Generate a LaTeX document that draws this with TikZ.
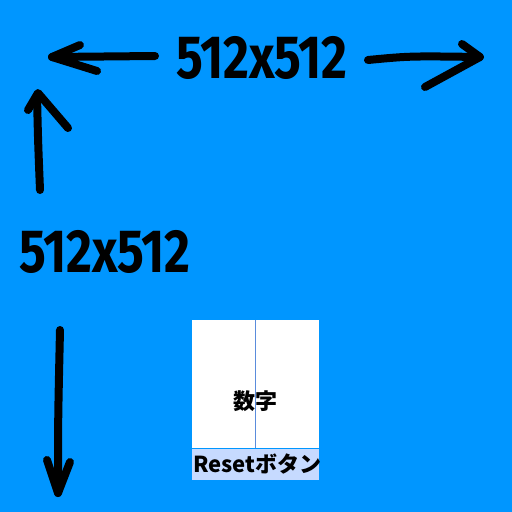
\documentclass[tikz,border=0pt]{standalone}
\usepackage{fontspec}
\setmainfont{Fira Sans}
\newfontfamily\jpfont{Noto Sans CJK JP}[BoldFont={Noto Sans CJK JP Black}]
\usetikzlibrary{positioning}
\definecolor{skyblue}{RGB}{0,150,255}
\definecolor{barblue}{RGB}{198,218,255}
\definecolor{lineblue}{RGB}{90,140,220}

\begin{document}
\begin{tikzpicture}[x=1pt, y=-1pt, every node/.style={inner sep=0pt},
  hand/.style={line width=8pt, line cap=round, line join=round},
  sizelabel/.style={font=\bfseries\fontsize{61}{61}\selectfont}]
  \fill[skyblue] (0,0) rectangle (512,512);
  \useasboundingbox (0,0) rectangle (512,512);

  % size labels
  \node[sizelabel] (wlabel) at (262,58) {\scalebox{0.82}[1]{512x512}};
  \node[sizelabel] (hlabel) at (105,252) {\scalebox{0.82}[1]{512x512}};

  % hand drawn arrows
  \draw[hand] (155,56) -- (52,57);
  \draw[hand] (80,45) -- (52,57) -- (97,71);
  \draw[hand] (368,60) .. controls (410,56) .. (480,57);
  \draw[hand] (462,44) -- (480,57) -- (425,87);
  \draw[hand] (40,190) .. controls (38,140) .. (37,95);
  \draw[hand] (28,110) -- (38,93) -- (68,128);
  \draw[hand] (60,330) .. controls (58,420) .. (58,493);
  \draw[hand] (47,460) -- (58,493) -- (70,462);

  % panel
  \node[fill=white, minimum width=127pt, minimum height=128pt, anchor=north west] (panel) at (192,320) {};
  \node[fill=barblue, minimum width=127pt, minimum height=31pt, below=0pt of panel] (bar) {};
  \draw[lineblue, line width=1pt] (panel.north) -- (bar.north);
  \node[below=6pt of panel.center, font=\jpfont\bfseries\fontsize{22}{22}\selectfont] (digits) {数字};
  \node[font=\jpfont\bfseries\fontsize{22}{22}\selectfont, xshift=1.5pt] (reset) at (bar.center) {Resetボタン};
\end{tikzpicture}
\end{document}
